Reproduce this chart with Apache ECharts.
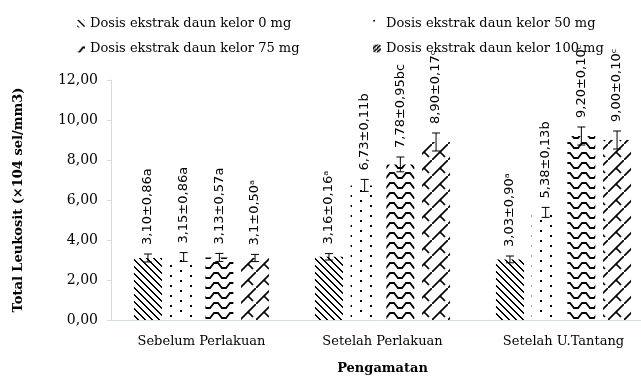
<!DOCTYPE html>
<html>
<head>
<meta charset="utf-8">
<script src="https://cdn.jsdelivr.net/npm/echarts@6/dist/echarts.min.js"></script>
<style>html,body{margin:0;padding:0;background:#fff}#c{width:641px;height:378px}</style>
</head>
<body>
<div id="c"></div>
<script>
const categories = ['Sebelum Perlakuan', 'Setelah Perlakuan', 'Setelah U.Tantang'];
const seriesNames = ['Dosis ekstrak daun kelor 0 mg', 'Dosis ekstrak daun kelor 50 mg', 'Dosis ekstrak daun kelor 75 mg', 'Dosis ekstrak daun kelor 100 mg'];
const dose0 = [3.10, 3.16, 3.03];
const dose50 = [3.15, 6.73, 5.38];
const dose75 = [3.13, 7.78, 9.20];
const dose100 = [3.10, 8.90, 9.00];
const err0 = [0.20, 0.16, 0.17];
const err50 = [0.22, 0.30, 0.25];
const err75 = [0.20, 0.37, 0.45];
const err100 = [0.18, 0.45, 0.45];
const labels0 = ['3,10±0,86a', '3,16±0,16ᵃ', '3,03±0,90ᵃ'];
const labels50 = ['3,15±0,86a', '6,73±0,11b', '5,38±0,13b'];
const labels75 = ['3,13±0,57a', '7,78±0,95bc', '9,20±0,10ᶜ'];
const labels100 = ['3,1±0,50ᵃ', '8,90±0,17ᶜ', '9,00±0,10ᶜ'];
const yTicks = [0, 2, 4, 6, 8, 10, 12];

const values = [dose0, dose50, dose75, dose100];
const errors = [err0, err50, err75, err100];
const labels = [labels0, labels50, labels75, labels100];

function tile(w, h, draw) {
  const c = document.createElement('canvas');
  c.width = w; c.height = h;
  const g = c.getContext('2d');
  g.fillStyle = '#fff'; g.fillRect(0, 0, w, h);
  g.fillStyle = '#000'; g.strokeStyle = '#000';
  draw(g);
  return { image: c, repeat: 'repeat' };
}
const pat0 = tile(7, 7, g => {
  for (let i = 0; i < 7; i++) { g.fillRect(i, i, 1, 1); g.fillRect((i + 1) % 7, i, 1, 1); }
});
const pat1 = tile(20, 10, g => {
  g.fillRect(0, 0, 2, 2); g.fillRect(10, 5, 2, 2);
});
const pat2 = tile(16, 10, g => {
  g.lineWidth = 1.8;
  g.beginPath(); g.moveTo(-1, 8); g.lineTo(2, 8); g.lineTo(6, 3); g.lineTo(10, 3); g.lineTo(14, 8); g.lineTo(17, 8); g.stroke();
});
const pat3 = tile(16, 16, g => {
  g.lineWidth = 1.7;
  g.beginPath(); g.moveTo(-1, 17); g.lineTo(17, -1); g.stroke();
  g.beginPath(); g.moveTo(8, 8); g.lineTo(13, 13); g.stroke();
});
const icon3 = tile(4, 4, g => {
  g.lineWidth = 1.6;
  g.beginPath(); g.moveTo(-1, 5); g.lineTo(5, -1); g.stroke();
  g.fillRect(0, 0, 1, 1);
});
const patterns = [pat0, pat1, pat2, pat3];

const barWidth = 28;
const barGapPx = 7.7;
const serif = '"DejaVu Serif", serif';

const series = [];
for (let s = 0; s < 4; s++) {
  series.push({
    name: seriesNames[s], type: 'bar', barWidth: barWidth, barGap: (barGapPx / barWidth * 100) + '%',
    itemStyle: { color: patterns[s] },
    data: values[s]
  });
}
for (let s = 0; s < 4; s++) {
  const off = (s - 1.5) * (barWidth + barGapPx);
  series.push({
    type: 'custom', silent: true, z: 5,
    data: values[s].map((v, i) => [i, v, errors[s][i]]),
    renderItem: function (params, api) {
      const cat = api.value(0), v = api.value(1), e = api.value(2);
      const t = api.coord([cat, v + e]);
      const b = api.coord([cat, v - e]);
      const x = t[0] + off;
      const cw = 4;
      return {
        type: 'group',
        children: [
          { type: 'line', shape: { x1: x, y1: t[1], x2: x, y2: b[1] }, style: { stroke: '#000', lineWidth: 1 } },
          { type: 'line', shape: { x1: x - cw, y1: t[1], x2: x + cw, y2: t[1] }, style: { stroke: '#000', lineWidth: 1 } },
          { type: 'line', shape: { x1: x - cw, y1: b[1], x2: x + cw, y2: b[1] }, style: { stroke: '#000', lineWidth: 1 } },
          { type: 'text', x: x, y: t[1] - 9, rotation: Math.PI / 2,
            style: { text: labels[s][params.dataIndex], fill: '#000', font: '13px "DejaVu Sans", sans-serif', align: 'left', verticalAlign: 'middle' } }
        ]
      };
    }
  });
}

const chart = echarts.init(document.getElementById('c'));
chart.setOption({
  animation: false,
  backgroundColor: '#fff',
  legend: [
    { data: [seriesNames[0], seriesNames[2]], orient: 'vertical', left: 72, top: 12, itemWidth: 8, itemHeight: 8, itemGap: 12,
      textStyle: { fontFamily: serif, fontSize: 13, color: '#000' } },
    { data: [seriesNames[1], { name: seriesNames[3], itemStyle: { color: icon3 } }], orient: 'vertical', left: 368, top: 12, itemWidth: 8, itemHeight: 8, itemGap: 12,
      textStyle: { fontFamily: serif, fontSize: 13, color: '#000' } }
  ],
  grid: { left: 111, top: 80, width: 543, height: 240, containLabel: false, outerBoundsMode: 'none' },
  xAxis: {
    type: 'category', data: categories,
    axisLine: { lineStyle: { color: '#d6dce5' } }, axisTick: { show: false },
    axisLabel: { fontFamily: serif, fontSize: 13, color: '#000', margin: 15 },
    name: 'Pengamatan', nameLocation: 'middle', nameGap: 42,
    nameTextStyle: { fontFamily: serif, fontSize: 13, fontWeight: 'bold', color: '#000' }
  },
  yAxis: {
    type: 'value', min: 0, max: 12, interval: 2,
    axisLine: { show: true, lineStyle: { color: '#d6dce5' } },
    axisTick: { show: true, length: 4, lineStyle: { color: '#d6dce5' } },
    splitLine: { show: false },
    axisLabel: { fontFamily: serif, fontSize: 14, color: '#000', margin: 13,
      formatter: v => yTicks.indexOf(v) >= 0 ? v.toFixed(2).replace('.', ',') : '' },
    name: 'Total Leukosit (×104 sel/mm3)', nameLocation: 'middle', nameGap: 86,
    nameTextStyle: { fontFamily: serif, fontSize: 13, fontWeight: 'bold', color: '#000' }
  },
  series: series
});
</script>
</body>
</html>
